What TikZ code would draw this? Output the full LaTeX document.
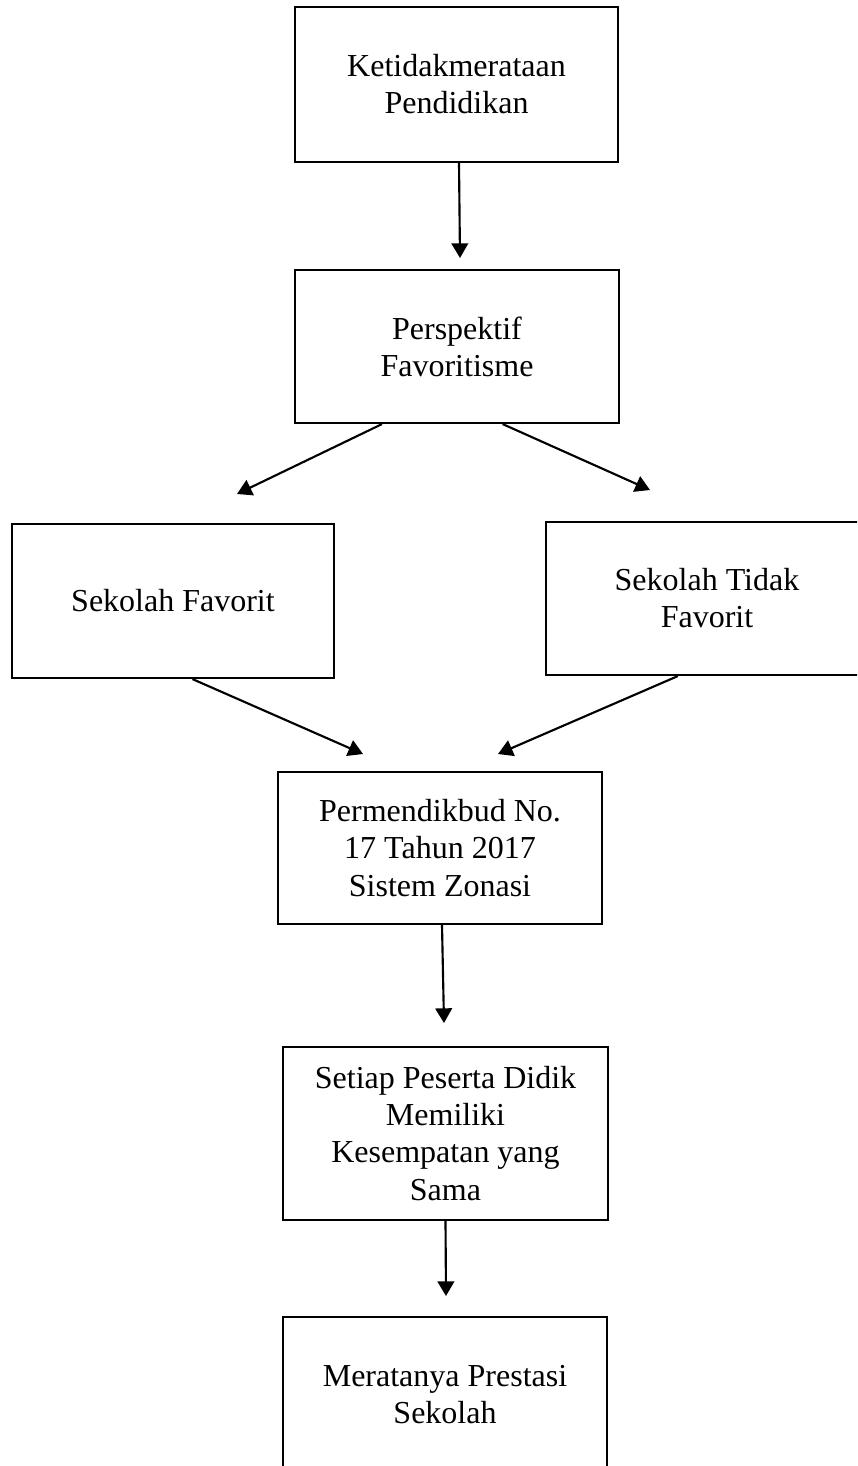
\documentclass[tikz,border=0pt]{standalone}
\usepackage{fontspec}
\setmainfont{Liberation Serif}
\usetikzlibrary{arrows.meta,calc}
\begin{document}
\begin{tikzpicture}[x=0.75pt,y=-0.75pt,
  box/.style={draw=black,line width=1.6pt,fill=none,align=center,inner sep=0pt,
    font=\fontsize{24}{27.8}\selectfont},
  conn/.style={line width=1.6pt,-{Triangle[length=11pt,width=12.5pt]}}]
\useasboundingbox (0,0) rectangle (857,1466);
\clip (0,0) rectangle (857,1466);
\fill[white] (0,0) rectangle (857,1466);
% boxes
\node[box,minimum width=323*0.75pt,minimum height=155*0.75pt] (b1) at (456.5,84.5) {Ketidakmerataan\\Pendidikan};
\node[box,minimum width=324*0.75pt,minimum height=153*0.75pt] (b2) at (457,346.5) {Perspektif\\Favoritisme};
\node[box,minimum width=322*0.75pt,minimum height=154*0.75pt] (b3) at (173,601) {Sekolah Favorit};
\node[box,minimum width=322*0.75pt,minimum height=153*0.75pt] (b4) at (707,598.5) {Sekolah Tidak\\Favorit};
\node[box,minimum width=324*0.75pt,minimum height=152*0.75pt] (b5) at (440,848) {Permendikbud No.\\17 Tahun 2017\\Sistem Zonasi};
\node[box,minimum width=325*0.75pt,minimum height=173*0.75pt] (b6) at (445.5,1133.5) {Setiap Peserta Didik\\Memiliki\\Kesempatan yang\\Sama};
\node[box,minimum width=324*0.75pt,minimum height=156*0.75pt] (b7) at (445,1395) {Meratanya Prestasi\\Sekolah};
% arrow tips (free ends)
\coordinate (t1) at (460,258);
\coordinate (t2) at (237,494);
\coordinate (t3) at (650,490);
\coordinate (t4) at (363,754);
\coordinate (t5) at (498,754);
\coordinate (t6) at (444,1023);
\coordinate (t7) at (446,1296);
% connectors
\draw[conn] ($(b1.south)+(2.5,0)$) -- (t1);
\draw[conn] ($(b2.south west)!0.27!(b2.south east)$) -- (t2);
\draw[conn] ($(b2.south west)!0.64!(b2.south east)$) -- (t3);
\draw[conn] ($(b3.south west)!0.56!(b3.south east)$) -- (t4);
\draw[conn] ($(b4.south west)!0.41!(b4.south east)$) -- (t5);
\draw[conn] ($(b5.south)+(2,0)$) -- (t6);
\draw[conn] (b6.south) -- (t7);
\end{tikzpicture}
\end{document}
